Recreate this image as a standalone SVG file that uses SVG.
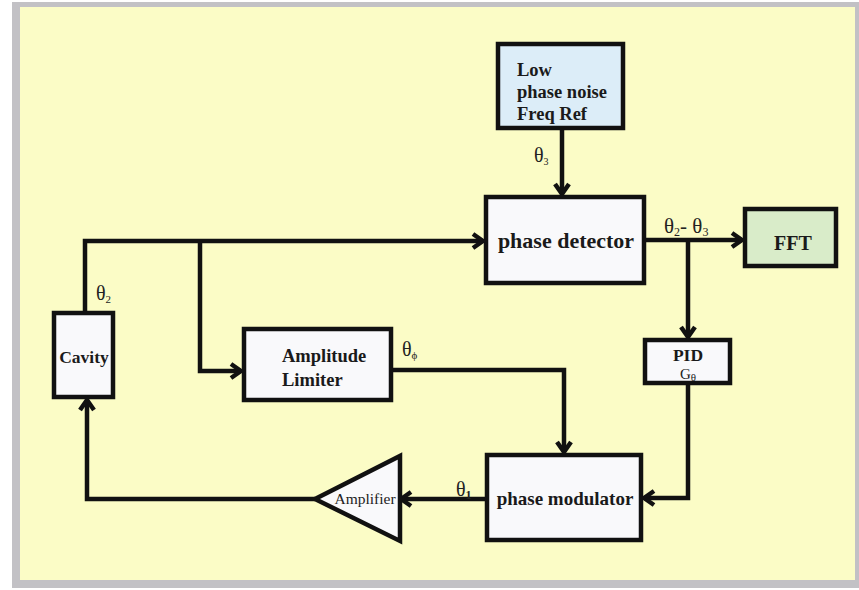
<svg xmlns="http://www.w3.org/2000/svg" width="859" height="590" viewBox="0 0 859 590">
<style>
.box{stroke:#111;stroke-width:4.5;fill:#f9f9fb}
.lbl{font-family:"Liberation Serif",serif;font-weight:bold;fill:#1a1a1a}
.sym{font-family:"Liberation Serif",serif;fill:#222}
.wire{stroke:#111;stroke-width:4.5;fill:none}
</style>
<defs>
<marker id="arr" markerUnits="userSpaceOnUse" viewBox="0 0 14 18" refX="12" refY="9" markerWidth="14" markerHeight="18" orient="auto">
<path d="M2,2 L12,9 L2,16" fill="none" stroke="#111" stroke-width="4.5"/>
</marker>
</defs>
<rect x="0" y="0" width="859" height="590" fill="#ffffff"/>
<rect x="12" y="2" width="847" height="586" fill="#c2c1c5"/>
<rect x="20" y="7" width="835" height="573" fill="#fbfcc6"/>

<g id="connectors">
<path class="wire" d="M562,130 V194" marker-end="url(#arr)"/>
<path class="wire" d="M85,311 V241 H483" marker-end="url(#arr)"/>
<path class="wire" d="M200,241 V371 H241" marker-end="url(#arr)"/>
<path class="wire" d="M393,370 H564 V452" marker-end="url(#arr)"/>
<path class="wire" d="M646,240 H742" marker-end="url(#arr)"/>
<path class="wire" d="M688,240 V337" marker-end="url(#arr)"/>
<path class="wire" d="M688,385 V498 H644" marker-end="url(#arr)"/>
<path class="wire" d="M485,499 H401" marker-end="url(#arr)"/>
<path class="wire" d="M315,499 H87 V400" marker-end="url(#arr)"/>
</g>

<g id="freqref">
<rect x="498" y="44" width="125" height="84" style="stroke:#111;stroke-width:4.5;fill:#dcedf8"/>
<text class="lbl" x="517" y="76" font-size="18.5">Low</text>
<text class="lbl" x="517" y="98" font-size="18.5">phase noise</text>
<text class="lbl" x="517" y="120" font-size="18.5">Freq Ref</text>
</g>

<g id="phasedetector">
<rect class="box" x="486" y="197" width="158" height="86"/>
<text class="lbl" x="566" y="248" font-size="22" text-anchor="middle">phase detector</text>
</g>

<g id="fft">
<rect x="745" y="209" width="91" height="57" style="stroke:#111;stroke-width:4.5;fill:#d9ecc9"/>
<text class="lbl" x="793" y="250" font-size="20" text-anchor="middle">FFT</text>
</g>

<g id="cavity">
<rect class="box" x="54" y="313" width="59" height="84"/>
<text class="lbl" x="84" y="363" font-size="17.5" text-anchor="middle">Cavity</text>
</g>

<g id="limiter">
<rect class="box" x="244" y="329" width="147" height="71"/>
<text class="lbl" x="282" y="362" font-size="18.5">Amplitude</text>
<text class="lbl" x="282" y="386" font-size="18.5">Limiter</text>
</g>

<g id="pid">
<rect class="box" x="645" y="340" width="85" height="43"/>
<text class="lbl" x="688" y="361" font-size="17.5" text-anchor="middle">PID</text>
<text class="sym" x="688" y="379" font-size="15" text-anchor="middle">G<tspan font-size="11" dy="2">θ</tspan></text>
</g>

<g id="modulator">
<rect class="box" x="487" y="455" width="154" height="85"/>
<text class="lbl" x="565" y="505" font-size="19" text-anchor="middle">phase modulator</text>
</g>

<g id="amplifier">
<path d="M315,499 L400,456 L400,541 Z" style="stroke:#111;stroke-width:4.5;fill:#f9f9fb;stroke-linejoin:miter"/>
<text class="sym" x="365" y="504" font-size="15.5" text-anchor="middle">Amplifier</text>
</g>

<g id="labels">
<text class="sym" x="534" y="162" font-size="20">θ<tspan font-size="10" dy="3">3</tspan></text>
<text class="sym" x="96" y="300" font-size="20">θ<tspan font-size="11" dy="3">2</tspan></text>
<text class="sym" x="402" y="356" font-size="20">θ<tspan font-size="11" dy="3">ϕ</tspan></text>
<text class="sym" x="456" y="496" font-size="20">θ<tspan font-size="12" font-weight="bold" dy="3">1</tspan></text>
<text class="sym" x="664" y="233" font-size="21">θ<tspan font-size="12" dy="3">2</tspan><tspan dy="-3">- θ</tspan><tspan font-size="12" dy="3">3</tspan></text>
</g>
</svg>
